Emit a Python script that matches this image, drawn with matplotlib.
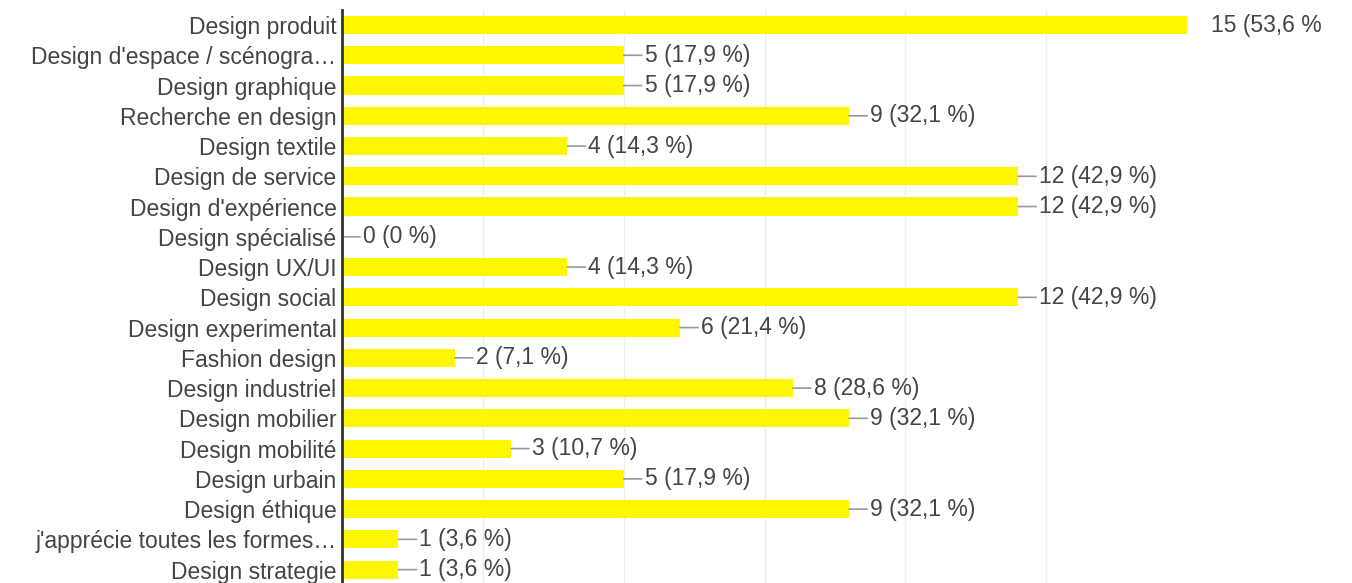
import matplotlib.pyplot as plt

categories = ["Design produit", "Design d'espace / scénogra…", "Design graphique",
              "Recherche en design", "Design textile", "Design de service",
              "Design d'expérience", "Design spécialisé", "Design UX/UI",
              "Design social", "Design experimental", "Fashion design",
              "Design industriel", "Design mobilier", "Design mobilité",
              "Design urbain", "Design éthique", "j'apprécie toutes les formes…",
              "Design strategie"]
counts = [15, 5, 5, 9, 4, 12, 12, 0, 4, 12, 6, 2, 8, 9, 3, 5, 9, 1, 1]
percents = ["53,6", "17,9", "17,9", "32,1", "14,3", "42,9", "42,9", "0", "14,3",
            "42,9", "21,4", "7,1", "28,6", "32,1", "10,7", "17,9", "32,1", "3,6", "3,6"]
grid_ticks = [0, 2.5, 5, 7.5, 10, 12.5, 15]

plt.rcParams['font.family'] = ['Liberation Sans', 'DejaVu Sans']
text_color = '#444444'

fig = plt.figure(figsize=(13.52, 5.83), dpi=100)
ax = fig.add_axes([0.253, -0.003, 0.625, 0.986])

y = list(range(len(categories)))
ax.barh(y, counts, height=0.6, color='#fff700', zorder=2)
ax.set_ylim(len(categories) - 0.5, -0.5)
ax.set_xlim(0, 15)
ax.set_yticks(y)
ax.set_yticklabels(categories, fontsize=16.5, color=text_color)
ax.tick_params(axis='y', length=0, pad=4)
ax.set_xticks(grid_ticks)
ax.tick_params(axis='x', length=0, labelbottom=False)
ax.grid(axis='x', color='#ededed', lw=1, zorder=0)

for s in ['top', 'right', 'bottom']:
    ax.spines[s].set_visible(False)
ax.spines['left'].set_color('#333333')
ax.spines['left'].set_linewidth(2)
ax.spines['left'].set_zorder(3)

# value labels with short leader lines
for i, (c, p) in enumerate(zip(counts, percents)):
    label = f"{c} ({p} %)"
    if c == max(counts):
        # the top label is clipped at the edge in the original
        ax.annotate(label[:-1], (c, i), xytext=(17, 0), textcoords='offset points',
                    ha='left', va='center', fontsize=16.5, color=text_color,
                    annotation_clip=False)
    else:
        ax.annotate(label, (c, i), xytext=(15, 0), textcoords='offset points',
                    ha='left', va='center', fontsize=16.5, color=text_color,
                    annotation_clip=False,
                    arrowprops=dict(arrowstyle='-', color='#999999', lw=1.2,
                                    shrinkA=0, shrinkB=0))

fig.savefig('out.png', dpi=100)
